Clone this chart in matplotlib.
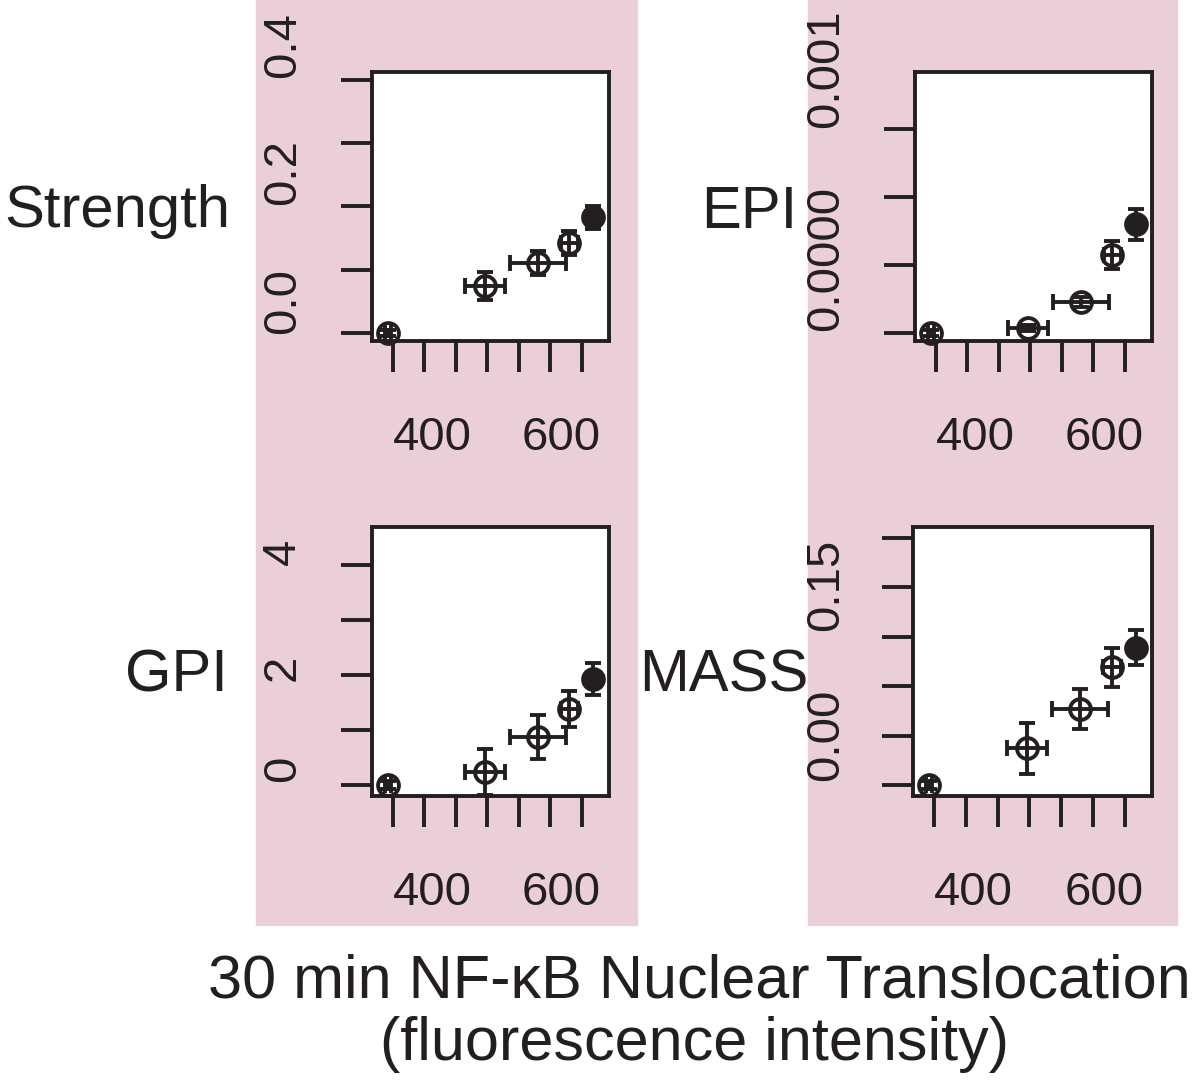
import matplotlib
matplotlib.use('Agg')
import matplotlib.pyplot as plt
from matplotlib.patches import Rectangle

plt.rcParams['font.family'] = ['Liberation Sans', 'DejaVu Sans']

W, H = 1200, 1086
ink = '#231f20'
pink = '#eaced8'

# 30 min NF-kB nuclear translocation (x) shared by all panels
nfkb = [292, 446, 530, 580, 617]
nfkb_err = [5, 32, 44, 14, 8]

strength = [0.0, 0.074, 0.111, 0.142, 0.183]
strength_err = [0.004, 0.022, 0.019, 0.019, 0.018]

epi = [0.0, 1.8e-5, 1.14e-4, 2.87e-4, 4.0e-4]
epi_err = [1.0e-5, 1.1e-5, 1.8e-5, 5.1e-5, 5.7e-5]

gpi = [0.0, 0.24, 0.87, 1.38, 1.93]
gpi_err = [0.07, 0.42, 0.40, 0.33, 0.29]

mass = [0.0, 0.037, 0.077, 0.119, 0.139]
mass_err = [0.004, 0.026, 0.020, 0.020, 0.018]

x_ticks = [300, 350, 400, 450, 500, 550, 600]
x_ticklabels = ['400', '600']

panels = [
    # name, y, yerr, box (left, top, right, bottom px), ylim, yticks, labels, label positions
    dict(name='Strength', y=strength, yerr=strength_err, box=(372, 72, 609, 341),
         ylim=(-0.0126, 0.4123), yticks=[0, 0.1, 0.2, 0.3, 0.4],
         labels=['0.0', '0.2', '0.4'], label_at=[0.051, 0.254, 0.455],
         name_xy=(230, 227)),
    dict(name='EPI', y=epi, yerr=epi_err, box=(915, 72, 1152, 341),
         ylim=(-2.94e-5, 9.6e-4), yticks=[0, 2.5e-4, 5e-4, 7.5e-4],
         labels=['0.0000', '0.001'], label_at=[2.76e-4, 9.74e-4],
         name_xy=(797, 228)),
    dict(name='GPI', y=gpi, yerr=gpi_err, box=(372, 527, 609, 796),
         ylim=(-0.2, 4.69), yticks=[0, 1, 2, 3, 4],
         labels=['0', '2', '4'], label_at=[0.29, 2.13, 4.24],
         name_xy=(228, 692)),
    dict(name='MASS', y=mass, yerr=mass_err, box=(913, 527, 1152, 796),
         ylim=(-0.0111, 0.261), yticks=[0, 0.05, 0.1, 0.15, 0.2, 0.25],
         labels=['0.00', '0.15'], label_at=[0.0506, 0.2024],
         name_xy=(808, 692)),
]

fig = plt.figure(figsize=(W / 100, H / 100), dpi=100)

# pink background columns, kept behind the axes
for x0, x1 in [(256, 637), (808, 1177)]:
    fig.patches.append(Rectangle((x0 / W, 1 - 925 / H), (x1 - x0) / W, 925 / H,
                                 transform=fig.transFigure, color=pink, zorder=-5))

lw = 2.8
for p in panels:
    l, t, r, b = p['box']
    ax = fig.add_axes([l / W, 1 - b / H, (r - l) / W, (b - t) / H])
    ax.set_facecolor('white')
    ax.set_xlim(266.7, 642.9)
    ax.set_ylim(*p['ylim'])
    ax.set_xticks(x_ticks)
    ax.set_yticks(p['yticks'])
    ax.tick_params(direction='out', length=22, width=lw, color=ink,
                   labelleft=False, labelbottom=False)
    for s in ax.spines.values():
        s.set_linewidth(lw)
        s.set_color(ink)

    ax.errorbar(nfkb, p['y'], xerr=nfkb_err, yerr=p['yerr'], fmt='o', ms=15,
                mfc='none', mec=ink, mew=lw, ecolor=ink, elinewidth=lw,
                capsize=6, capthick=lw, clip_on=False, zorder=3)
    ax.plot(nfkb[-1:], p['y'][-1:], 'o', ms=15, color=ink, zorder=4, clip_on=False)

    ylab_x = -0.364 if p['name'] == 'MASS' else -0.3755
    for txt, pos in zip(p['labels'], p['label_at']):
        ax.text(ylab_x, pos, txt, transform=ax.get_yaxis_transform(), rotation=90,
                ha='center', va='center', fontsize=34, color=ink, clip_on=False)
    for txt, pos in zip(x_ticklabels, [362, 567]):
        ax.text(pos, -0.36, txt, transform=ax.get_xaxis_transform(),
                ha='center', va='center', fontsize=34, color=ink, clip_on=False)

    nx, ny = p['name_xy']
    fig.text(nx / W, 1 - ny / H, p['name'], ha='right', va='baseline',
             fontsize=43, color=ink)

fig.text(699 / W, 1 - 997 / H, '30 min NF-\u03baB Nuclear Translocation',
         ha='center', va='baseline', fontsize=44, color=ink)
fig.text(694 / W, 1 - 1060 / H, '(fluorescence intensity)',
         ha='center', va='baseline', fontsize=44, color=ink)

fig.savefig('out.png', dpi=100, facecolor='white')
